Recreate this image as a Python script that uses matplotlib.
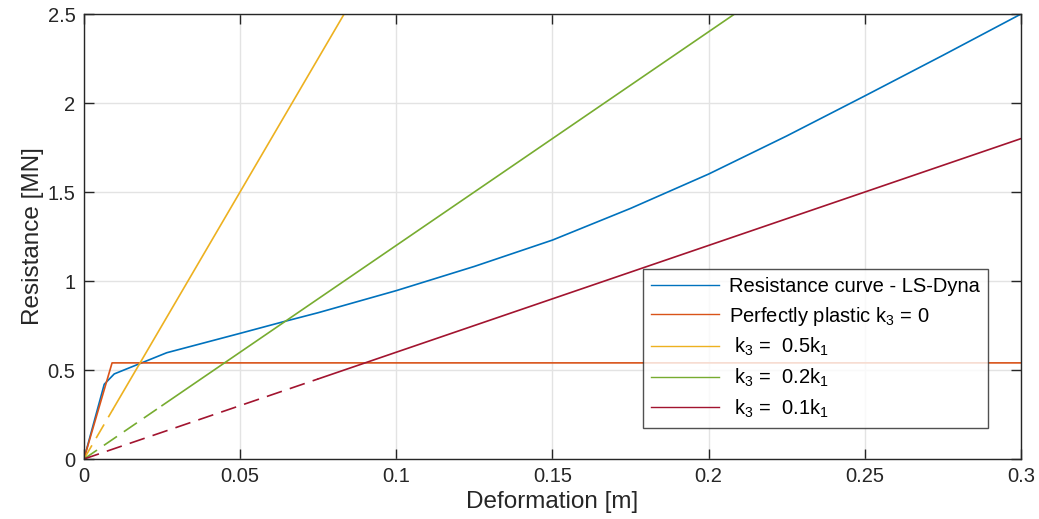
import matplotlib
matplotlib.use("Agg")
import matplotlib.pyplot as plt

# LS-Dyna resistance curve
x_lsdyna = [0, 0.0065, 0.0097, 0.0265, 0.05, 0.0638, 0.075, 0.1, 0.125,
            0.15, 0.175, 0.2, 0.225, 0.25, 0.275, 0.3]
r_lsdyna = [0, 0.42, 0.478, 0.597, 0.706, 0.771, 0.822, 0.946, 1.082,
            1.23, 1.408, 1.601, 1.815, 2.04, 2.268, 2.5]

# perfectly plastic
x_plastic = [0, 0.009, 0.3]
r_plastic = [0, 0.54, 0.54]

# k3 lines: origin, end of dashed part, end of solid part
x_k05 = [0, 0.0093, 0.0833]
r_k05 = [0, 0.28, 2.5]
x_k02 = [0, 0.025, 0.2083]
r_k02 = [0, 0.30, 2.5]
x_k01 = [0, 0.075, 0.3]
r_k01 = [0, 0.45, 1.8]

labels = ["Resistance curve - LS-Dyna",
          r"Perfectly plastic $\mathregular{k_3}$ = 0",
          r" $\mathregular{k_3}$ =  0.5$\mathregular{k_1}$",
          r" $\mathregular{k_3}$ =  0.2$\mathregular{k_1}$",
          r" $\mathregular{k_3}$ =  0.1$\mathregular{k_1}$"]
colors = ["#0072BD", "#D95319", "#EDB120", "#77AC30", "#A2142F"]

xticks = [0, 0.05, 0.1, 0.15, 0.2, 0.25, 0.3]
xticklabels = ["0", "0.05", "0.1", "0.15", "0.2", "0.25", "0.3"]
yticks = [0, 0.5, 1, 1.5, 2, 2.5]
yticklabels = ["0", "0.5", "1", "1.5", "2", "2.5"]

plt.rcParams["font.family"] = ["Liberation Sans", "DejaVu Sans"]
plt.rcParams["mathtext.fontset"] = "custom"
plt.rcParams["mathtext.rm"] = "Liberation Sans"

fig = plt.figure(figsize=(10.39, 5.19), dpi=100)
ax = fig.add_axes([0.0808, 0.1156, 0.9019, 0.8574])

lw = 1.2
ax.plot(x_lsdyna, r_lsdyna, color=colors[0], lw=lw, label=labels[0])
ax.plot(x_plastic, r_plastic, color=colors[1], lw=lw, label=labels[1])
for xs, rs, c, lab in [(x_k05, r_k05, colors[2], labels[2]),
                       (x_k02, r_k02, colors[3], labels[3]),
                       (x_k01, r_k01, colors[4], labels[4])]:
    ax.plot(xs[:2], rs[:2], color=c, lw=lw, linestyle=(0, (9.5, 5)))
    ax.plot(xs[1:], rs[1:], color=c, lw=lw, label=lab)

ax.set_xlim(0, 0.3)
ax.set_ylim(0, 2.5)
ax.set_xticks(xticks)
ax.set_xticklabels(xticklabels)
ax.set_yticks(yticks)
ax.set_yticklabels(yticklabels)
ax.grid(True, color="#e3e3e3", lw=1.0)
ax.set_axisbelow(True)
ax.tick_params(direction="in", length=7, width=1.0, top=True, right=True,
               labelsize=14.5, colors="#262626", pad=6)
for s in ax.spines.values():
    s.set_color("#262626")
    s.set_linewidth(1.0)

ax.set_xlabel("Deformation [m]", fontsize=17.5, color="#262626", labelpad=3)
ax.set_ylabel("Resistance [MN]", fontsize=17.5, color="#262626", labelpad=3)

leg = ax.legend(loc="lower right", bbox_to_anchor=(0.965, 0.07), fontsize=14.5,
                handlelength=3.4, frameon=True, fancybox=False, edgecolor="#262626",
                borderpad=0.4, labelspacing=0.42, handletextpad=0.5,
                borderaxespad=0)
leg.get_frame().set_linewidth(1.0)
for line in leg.get_lines():
    line.set_linewidth(1.0)

fig.savefig("out.png", dpi=100)
